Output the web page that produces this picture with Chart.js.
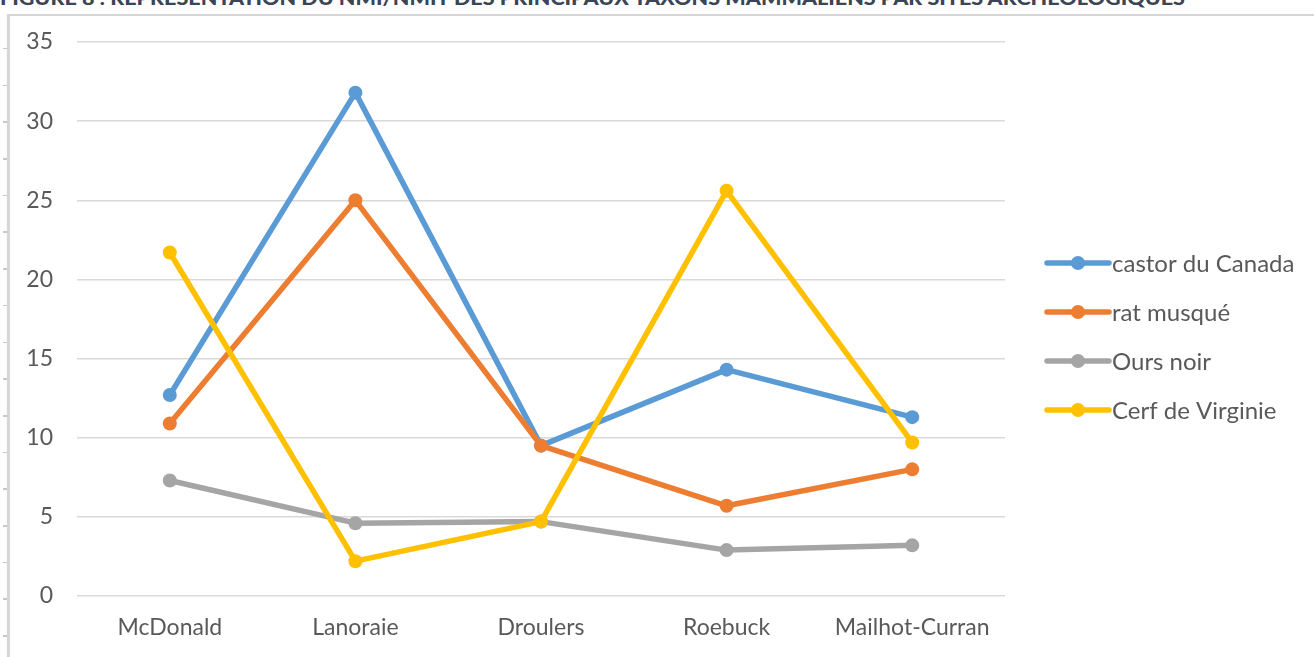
<!DOCTYPE html>
<html lang="fr">
<head>
<meta charset="utf-8">
<title>NMI par sites archéologiques</title>
<script src="https://cdn.jsdelivr.net/npm/chart.js@4.4.1/dist/chart.umd.min.js"></script>
<style>
  html, body { margin: 0; padding: 0; background: #fff; overflow: hidden; }
  body { width: 1314px; height: 657px; position: relative; }
  #heading {
    position: absolute; left: 0; top: -12px;
    font: 900 19px Lato, "Noto Sans", sans-serif;
    color: #3A4556; white-space: nowrap; line-height: 19px;
    transform-origin: 0 0;
  }
  #frame {
    position: absolute; left: 7px; top: 14px; right: -10px; bottom: -10px;
    border-left: 3px solid #D6D6D6; border-top: 2px solid #D6D6D6;
    box-shadow: 0 1px 2px rgba(0,0,0,0.08);
  }
  #ruler {
    position: absolute; left: 3px; top: 48px; width: 4px; bottom: 0;
    background: repeating-linear-gradient(to bottom, #C8C8C8 0, #C8C8C8 1.5px, transparent 1.5px, transparent 36.7px);
  }
  #wrap { position: absolute; left: 0; top: 0; width: 1314px; height: 657px; }
</style>
</head>
<body>
<div id="heading">FIGURE 8 : REPRÉSENTATION DU NMI/NMIT DES PRINCIPAUX TAXONS MAMMALIENS PAR SITES ARCHÉOLOGIQUES</div>
<div id="frame"></div>
<div id="ruler"></div>
<div id="wrap"><canvas id="chart" width="1314" height="657"></canvas></div>
<script>
// Sites (categories)
const sites = ["McDonald", "Lanoraie", "Droulers", "Roebuck", "Mailhot-Curran"];

// Series values per site
const castorDuCanada = [12.7, 31.8, 9.5, 14.3, 11.3];
const ratMusque      = [10.9, 25.0, 9.5, 5.7, 8.0];
const oursNoir       = [7.3, 4.6, 4.7, 2.9, 3.2];
const cerfDeVirginie = [21.7, 2.2, 4.7, 25.6, 9.7];

// Series names
const seriesNames = ["castor du Canada", "rat musqué", "Ours noir", "Cerf de Virginie"];

// Y axis ticks
const yTicks = [0, 5, 10, 15, 20, 25, 30, 35];

const colors = ["#5B9BD5", "#ED7D31", "#A5A5A5", "#FFC000"];
const seriesValues = [castorDuCanada, ratMusque, oursNoir, cerfDeVirginie];

// Stretch the heading line to the text block width
(function () {
  const h = document.getElementById("heading");
  const w = h.getBoundingClientRect().width;
  h.style.transform = "scaleX(" + (1185 / w) + ")";
})();

const FONT = "Lato, 'Noto Sans', sans-serif";
const TEXT = "#595959";

// Legend on the right: line sample with a marker, then the series name
const sideLegend = {
  id: "sideLegend",
  afterDraw(chart) {
    const ctx = chart.ctx;
    const x0 = chart.chartArea.right + 42;
    const lineLen = 62;
    ctx.save();
    chart.data.datasets.forEach((ds, i) => {
      const y = 263 + 49 * i;
      ctx.strokeStyle = ds.borderColor;
      ctx.lineWidth = 5.5;
      ctx.lineCap = "round";
      ctx.beginPath();
      ctx.moveTo(x0, y);
      ctx.lineTo(x0 + lineLen, y);
      ctx.stroke();
      ctx.fillStyle = ds.borderColor;
      ctx.beginPath();
      ctx.arc(x0 + lineLen / 2, y, 7, 0, Math.PI * 2);
      ctx.fill();
      ctx.fillStyle = TEXT;
      ctx.font = "24px " + FONT;
      ctx.textBaseline = "middle";
      ctx.textAlign = "left";
      ctx.fillText(ds.label, x0 + lineLen + 3, y + 1);
    });
    ctx.restore();
  }
};

new Chart(document.getElementById("chart"), {
  type: "line",
  data: {
    labels: sites,
    datasets: seriesValues.map((vals, i) => ({
      label: seriesNames[i],
      data: vals,
      borderColor: colors[i],
      backgroundColor: colors[i],
      pointBackgroundColor: colors[i],
      pointBorderWidth: 0,
      pointRadius: 7,
      borderWidth: 5.5,
      borderJoinStyle: "round",
      tension: 0,
      fill: false,
      order: seriesValues.length - i
    }))
  },
  options: {
    responsive: false,
    animation: false,
    layout: { padding: { left: 0, top: 42, right: 309, bottom: 17 } },
    plugins: {
      legend: { display: false },
      tooltip: { enabled: false },
      title: { display: false }
    },
    scales: {
      x: {
        offset: true,
        afterFit(axis) { axis.height = 44; },
        grid: { display: false, drawTicks: false },
        border: { display: false },
        ticks: {
          color: TEXT, font: { family: FONT, size: 23 }, padding: 18,
          maxRotation: 0, autoSkip: false
        }
      },
      y: {
        min: 0, max: 35,
        afterFit(axis) { axis.width = 77; },
        afterBuildTicks(axis) { axis.ticks = yTicks.map(v => ({ value: v })); },
        grid: { color: "#D9D9D9", lineWidth: 1.5, drawTicks: false },
        border: { display: false },
        ticks: {
          color: TEXT, font: { family: FONT, size: 23 }, padding: 24
        }
      }
    }
  },
  plugins: [sideLegend]
});
</script>
</body>
</html>
